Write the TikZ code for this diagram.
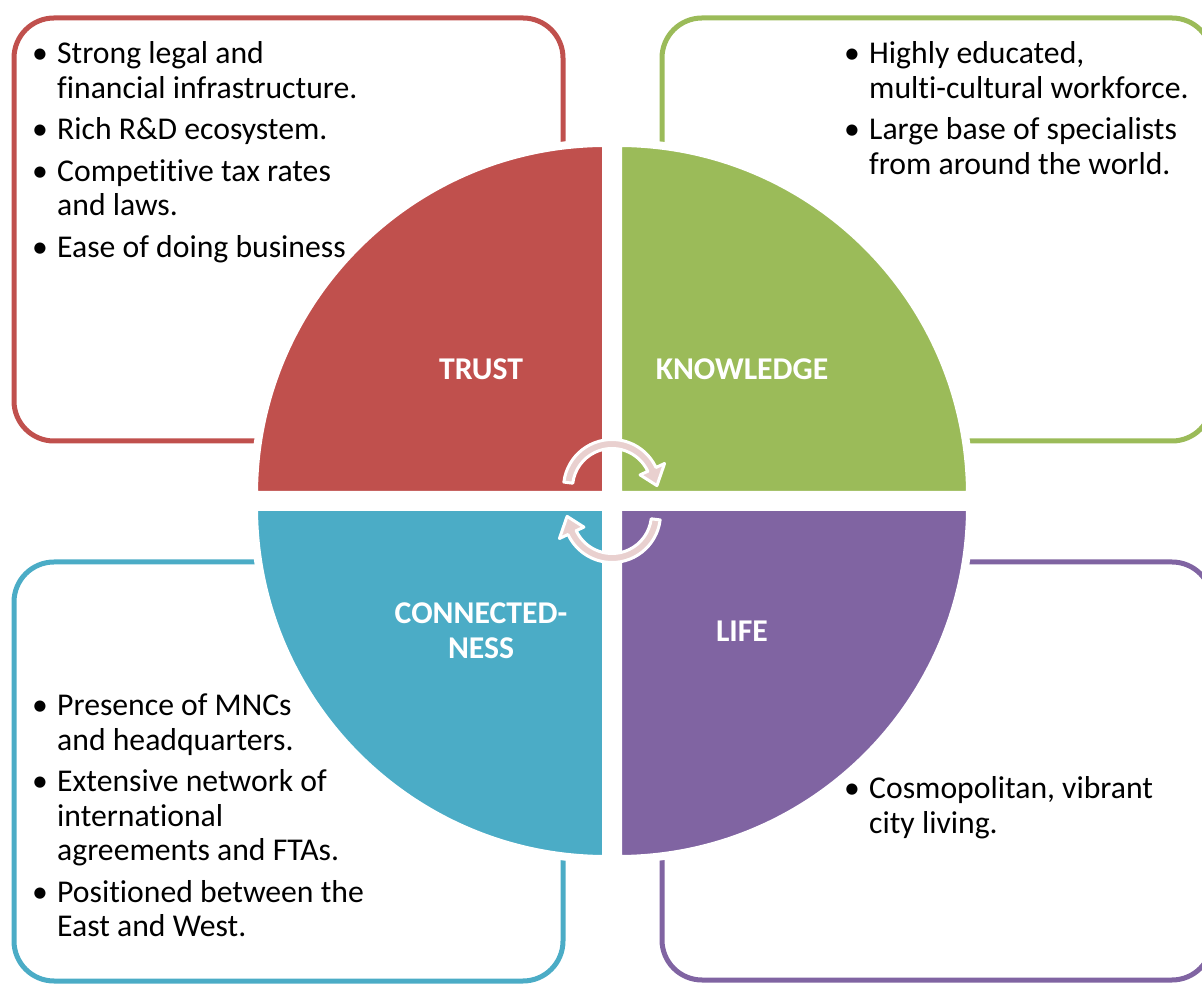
\documentclass[tikz,border=0pt]{standalone}
\usepackage{fontspec}
\setmainfont{Carlito}[Ligatures=NoCommon]
\usepackage{tikz}
\usetikzlibrary{positioning}
\definecolor{trustred}{HTML}{C0504D}
\definecolor{knowgreen}{HTML}{9BBB59}
\definecolor{connteal}{HTML}{4BACC6}
\definecolor{lifepurple}{HTML}{8064A2}
\definecolor{turnpink}{HTML}{E9D0CF}
\newcommand{\bodyfont}{\fontsize{31.7}{34.5}\selectfont}
\tikzset{%
	panel/.style    = {line width=5pt, rounded corners=40pt}, % text frame
	quarter/.style  = {draw=white, line width=8pt}, % circle quarter
	heading/.style  = {text=white, font=\bodyfont\bfseries, inner sep=0pt}, % quarter title
	points/.style   = {anchor=base west, inner sep=0pt, font=\bodyfont}, % bullet list
	turn/.style     = {fill=turnpink, draw=white, line width=3pt, line join=round}, % centre arrow
}
\newcommand{\pts}[1]{\begin{tabular}[t]{@{}p{25pt}@{}l@{}}#1\end{tabular}}

\begin{document}
\begin{tikzpicture}[x=1pt, y=1pt]
	\useasboundingbox (0,0) rectangle (1202,983);
	\clip (0,0) rectangle (1202,983);
	
	% frames
	\draw[panel, draw=trustred] (14,542) rectangle (563,965);
	\draw[panel, draw=knowgreen] (662,542) rectangle (1212,965);
	\draw[panel, draw=connteal] (14,2) rectangle (563,421);
	\draw[panel, draw=lifepurple] (662,3) rectangle (1212,421);
	
	% quarters
	\filldraw[quarter, fill=trustred] (606,488) -- ++(0,352) arc[start angle=90, end angle=180, radius=352] -- cycle;
	\filldraw[quarter, fill=knowgreen] (618,488) -- ++(352,0) arc[start angle=0, end angle=90, radius=352] -- cycle;
	\filldraw[quarter, fill=connteal] (606,476) -- ++(-352,0) arc[start angle=180, end angle=270, radius=352] -- cycle;
	\filldraw[quarter, fill=lifepurple] (618,476) -- ++(0,-352) arc[start angle=270, end angle=360, radius=352] -- cycle;
	
	% arrows in the middle
	\foreach \a in {0,180} {
		\begin{scope}[shift={(612,482)}, rotate=\a, shift={(0,13)}]
			\filldraw[turn] (173:48.5) arc[start angle=173, end angle=25, radius=48.5]
				-- (25:58) -- (3:45) -- (25:31) -- (25:39.5)
				arc[start angle=25, end angle=173, radius=39.5] -- cycle;
		\end{scope}
	}
	
	% titles
	\node[heading, anchor=base] (trust) at (481,603) {TRUST};
	\node[heading, anchor=base] (know) at (742,603) {KNOWLEDGE};
	\node[heading, anchor=base] (conn) at (481,359) {\begin{tabular}[t]{@{}c@{}}CONNECTED-\\NESS\end{tabular}};
	\node[heading, anchor=base] (life) at (742,341) {LIFE};
	
	% lists
	\node[points] (trustpts) at (32,919) {\pts{%
		\textbullet & Strong legal and\\ & financial infrastructure.\\[7pt]
		\textbullet & Rich R\&D ecosystem.\\[7pt]
		\textbullet & Competitive tax rates\\ & and laws.\\[7pt]
		\textbullet & Ease of doing business}};
	\node[points] (knowpts) at (844,919) {\pts{%
		\textbullet & Highly educated,\\ & multi-cultural workforce.\\[7pt]
		\textbullet & Large base of specialists\\ & from around the world.}};
	\node[points] (connpts) at (32,267) {\pts{%
		\textbullet & Presence of MNCs\\ & and headquarters.\\[7pt]
		\textbullet & Extensive network of\\ & international\\ & agreements and FTAs.\\[7pt]
		\textbullet & Positioned between the\\ & East and West.}};
	\node[points] (lifepts) at (844,184) {\pts{%
		\textbullet & Cosmopolitan, vibrant\\ & city living.}};
\end{tikzpicture}
\end{document}
